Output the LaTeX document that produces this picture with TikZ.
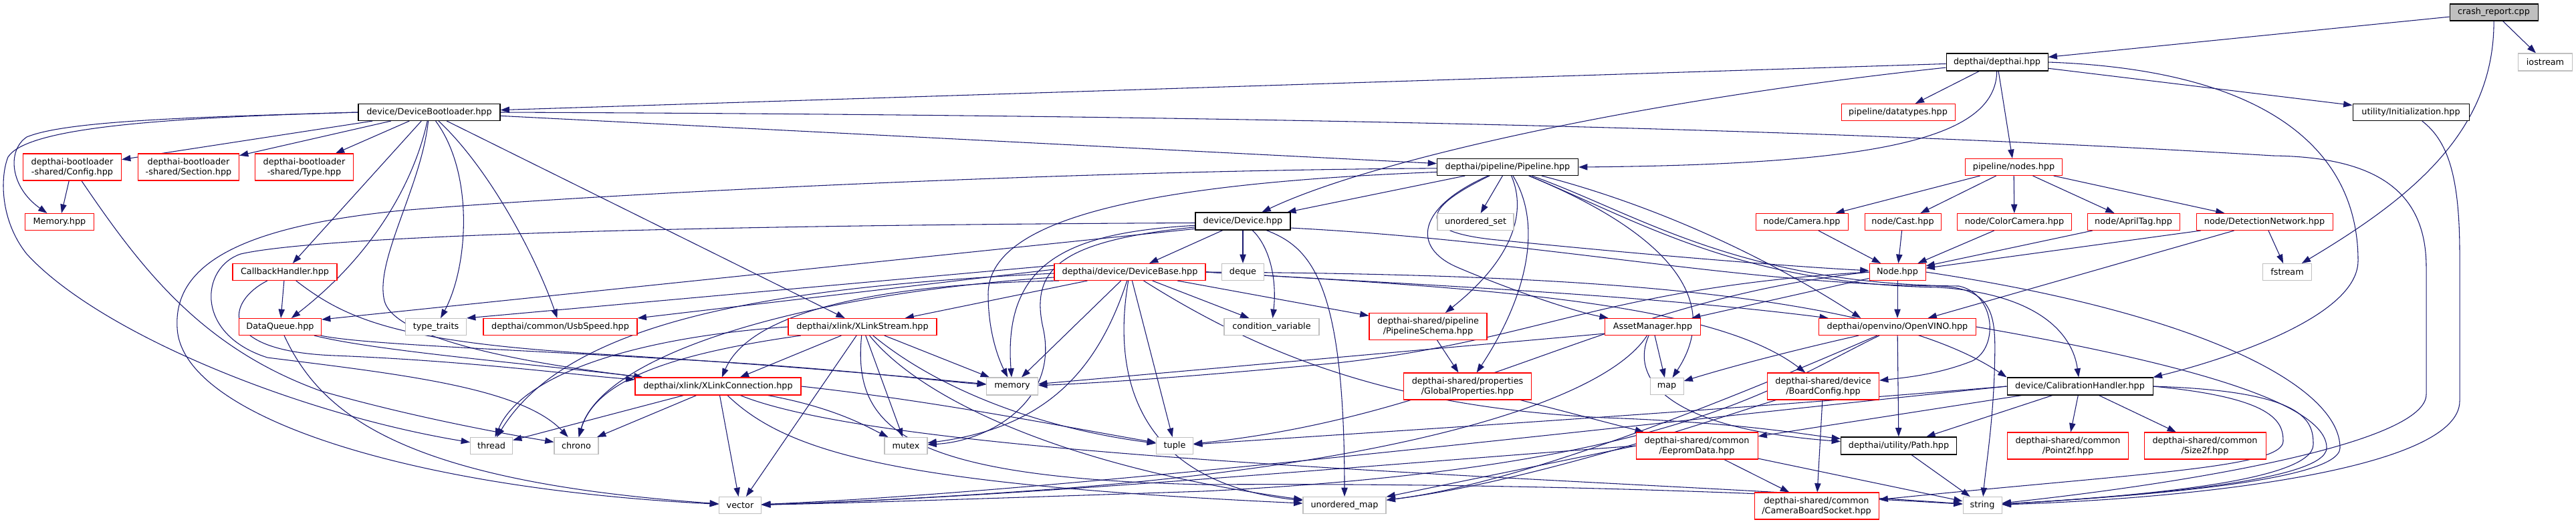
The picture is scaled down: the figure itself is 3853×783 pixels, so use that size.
\documentclass[tikz,border=0pt]{standalone}
\usepackage{fontspec}
\newfontfamily\dvs{DejaVu Sans}
\usetikzlibrary{arrows.meta,backgrounds}
\definecolor{edgec}{HTML}{191970}
\definecolor{gbord}{HTML}{BFBFBF}
\definecolor{rbord}{HTML}{FF0000}
\definecolor{crashfill}{HTML}{BFBFBF}
\begin{document}
\begin{tikzpicture}[x=0.75pt,y=-0.75pt,
  box/.style={inner sep=0pt, line width=0.8pt, fill=white, font={\dvs\fontsize{9.6}{11.25}\selectfont}, align=center},
  nb/.style={box, draw=black},
  nr/.style={box, draw=rbord},
  ng/.style={box, draw=gbord},
  sz/.style 2 args={minimum width=#1*0.75pt, minimum height=#2*0.75pt},
  e/.style={draw=edgec, line width=0.8pt, -{Triangle[length=10pt,width=7pt]}}]
\useasboundingbox (0,0) rectangle (3853,783);
% ---------------- nodes
\node[nb, fill=crashfill, sz={132}{25}] (crash) at (3730,18.5) {crash\_report.cpp};
\node[nb, sz={152}{26}] (depthai) at (2987,93) {depthai/depthai.hpp};
\node[ng, sz={81}{26}] (iostream) at (3807,93) {iostream};
\node[nb, sz={212}{25}] (dboot) at (642,168) {device/DeviceBootloader.hpp};
\node[nr, sz={170}{25}] (datatypes) at (2839,168) {pipeline/datatypes.hpp};
\node[nb, sz={174}{25}] (init) at (3606,168) {utility/Initialization.hpp};
\node[nr, sz={147}{40}] (cfg) at (108,250) {depthai-bootloader\\-shared/Config.hpp};
\node[nr, sz={151}{40}] (sect) at (282,250) {depthai-bootloader\\-shared/Section.hpp};
\node[nr, sz={147}{40}] (btype) at (455,250) {depthai-bootloader\\-shared/Type.hpp};
\node[nb, sz={211}{25}] (pipeline) at (2255,250) {depthai/pipeline/Pipeline.hpp};
\node[nr, sz={145}{25}] (nodes) at (3012,250) {pipeline/nodes.hpp};
\node[nr, sz={103}{25}] (memhpp) at (89,332) {Memory.hpp};
\node[nb, sz={142}{26}] (device) at (1859,331) {device/Device.hpp};
\node[ng, sz={114}{25}] (uset) at (2207,332) {unordered\_set};
\node[nr, sz={138}{25}] (camera) at (2695,332) {node/Camera.hpp};
\node[nr, sz={114}{25}] (cast) at (2846,332) {node/Cast.hpp};
\node[nr, sz={171}{25}] (colorcam) at (3013,332) {node/ColorCamera.hpp};
\node[nr, sz={138}{25}] (apriltag) at (3191,332) {node/AprilTag.hpp};
\node[nr, sz={204}{25}] (detnet) at (3387,332) {node/DetectionNetwork.hpp};
\node[nr, sz={156}{25}] (cbh) at (426,407) {CallbackHandler.hpp};
\node[nr, sz={226}{25}] (devbase) at (1690,407) {depthai/device/DeviceBase.hpp};
\node[ng, sz={63}{25}] (deque) at (1859,407) {deque};
\node[nr, sz={84}{25}] (node) at (2838,407) {Node.hpp};
\node[ng, sz={73}{25}] (fstream) at (3421,407) {fstream};
\node[nr, sz={123}{25}] (dq) at (419,489) {DataQueue.hpp};
\node[ng, sz={91}{25}] (ttraits) at (652,489) {type\_traits};
\node[nr, sz={230}{25}] (usb) at (838,489) {depthai/common/UsbSpeed.hpp};
\node[nr, sz={222}{25}] (xstream) at (1290,489) {depthai/xlink/XLinkStream.hpp};
\node[ng, sz={142}{25}] (condvar) at (1902,489) {condition\_variable};
\node[nr, sz={176}{40}] (schema) at (2136,488.5) {depthai-shared/pipeline\\/PipelineSchema.hpp};
\node[nr, sz={143}{25}] (asset) at (2472,489) {AssetManager.hpp};
\node[nr, sz={235}{25}] (openvino) at (2838,489) {depthai/openvino/OpenVINO.hpp};
\node[nr, sz={248}{26}] (xconn) at (1074,578) {depthai/xlink/XLinkConnection.hpp};
\node[ng, sz={77}{26}] (memory) at (1514,578) {memory};
\node[nr, sz={191}{40}] (gprops) at (2195,578) {depthai-shared/properties\\/GlobalProperties.hpp};
\node[ng, sz={50}{25}] (map) at (2493,578) {map};
\node[nr, sz={167}{40}] (board) at (2727,578) {depthai-shared/device\\/BoardConfig.hpp};
\node[nb, sz={218}{26}] (calib) at (3111,578) {device/CalibrationHandler.hpp};
\node[ng, sz={63}{25}] (thread) at (735,667) {thread};
\node[ng, sz={66}{25}] (chrono) at (862,667) {chrono};
\node[ng, sz={64}{25}] (mutex) at (1355,667) {mutex};
\node[ng, sz={55}{25}] (tuple) at (1757,667) {tuple};
\node[nr, sz={182}{40}] (eeprom) at (2538,667) {depthai-shared/common\\/EepromData.hpp};
\node[nb, sz={173}{26}] (path) at (2840,667) {depthai/utility/Path.hpp};
\node[nr, sz={181}{40}] (point2f) at (3093,667) {depthai-shared/common\\/Point2f.hpp};
\node[nr, sz={182}{40}] (size2f) at (3298,667) {depthai-shared/common\\/Size2f.hpp};
\node[ng, sz={63}{25}] (vector) at (1107,756) {vector};
\node[ng, sz={124}{25}] (umap) at (2011,756) {unordered\_map};
\node[nr, sz={186}{40}] (camsock) at (2717,757) {depthai-shared/common\\/CameraBoardSocket.hpp};
\node[ng, sz={58}{25}] (string) at (2965,756) {string};
% ---------------- edges
\begin{pgfonlayer}{background}
\begin{scope}[e]
\draw (crash) -- (depthai);
\draw (crash) -- (iostream);
\draw (crash) .. controls (3731,200) and (3600,300) .. (fstream);
\draw (depthai) -- (dboot);
\draw (depthai) .. controls (2450,150) and (2050,240) .. (device);
\draw (depthai) -- (datatypes);
\draw (depthai) .. controls (2985,205) and (2820,246) .. (pipeline.east);
\draw (depthai) -- (nodes);
\draw (depthai) -- (init);
\draw (depthai.east) .. controls (3400,105) and (3527,230) .. (3527,390) .. controls (3527,480) and (3300,545) .. (calib.north east);
\draw (dboot) -- (cfg);
\draw (dboot) -- (sect);
\draw (dboot) -- (btype);
\draw (dboot.west) .. controls (300,175) and (100,180) .. (40,205) .. controls (10,225) and (15,280) .. (memhpp);
\draw (dboot.west) .. controls (250,176) and (40,190) .. (12,235) .. controls (0,265) and (0,330) .. (40,380) .. controls (150,500) and (450,620) .. (thread);
\draw (dboot) -- (cbh);
\draw (dboot) .. controls (620,270) and (560,380) .. (dq);
\draw (dboot) .. controls (630,280) and (560,390) .. (575,450) .. controls (590,510) and (800,545) .. (xconn);
\draw (dboot) .. controls (710,260) and (700,400) .. (ttraits);
\draw (dboot) .. controls (730,250) and (800,380) .. (usb);
\draw (dboot) -- (xstream);
\draw (dboot) -- (pipeline);
\draw (dboot.east) .. controls (1800,172) and (2700,190) .. (3400,233) .. controls (3560,235) and (3629,290) .. (3629,400) -- (3629,590) .. controls (3629,660) and (3300,720) .. (string);
\draw (cfg) -- (memhpp);
\draw (cfg) .. controls (210,400) and (300,520) .. (480,585) .. controls (620,625) and (760,650) .. (chrono);
\draw (pipeline) -- (device);
\draw (pipeline) -- (uset);
\draw (pipeline) .. controls (2285,320) and (2260,390) .. (schema);
\draw (pipeline) .. controls (2310,340) and (2280,450) .. (gprops);
\draw (pipeline) .. controls (2450,330) and (2590,430) .. (map);
\draw (pipeline) .. controls (2120,310) and (2110,370) .. (2180,400) .. controls (2250,430) and (2350,465) .. (asset);
\draw (pipeline) .. controls (2110,320) and (2130,350) .. (2250,360) .. controls (2500,385) and (2700,400) .. (node);
\draw (pipeline.181) .. controls (1600,255) and (900,290) .. (600,315) .. controls (350,340) and (260,400) .. (265,490) .. controls (270,620) and (600,730) .. (vector);
\draw (pipeline.184) .. controls (1700,275) and (1478,330) .. (1478,440) .. controls (1478,500) and (1495,540) .. (memory);
\draw (pipeline) .. controls (2450,300) and (2620,370) .. ([xshift=-41pt]openvino.north);
\draw (pipeline) .. controls (2450,330) and (2600,425) .. (2900,430) .. controls (3050,440) and (3100,500) .. (calib);
\draw (pipeline) .. controls (2450,320) and (2600,425) .. (2930,428) .. controls (2985,440) and (2990,520) .. (2950,540) .. controls (2900,560) and (2850,565) .. (board);
\draw (device) -- (devbase);
\draw (device) -- (deque);
\draw (device) .. controls (1900,370) and (1910,420) .. (condvar);
\draw (device.185) .. controls (1600,348) and (1500,390) .. (memory);
\draw (device.187) .. controls (1590,360) and (1540,400) .. (1560,490) .. controls (1585,600) and (1480,660) .. (mutex);
\draw (device.189) -- (dq.10);
\draw (device.182) .. controls (1200,336) and (500,348) .. (360,380) .. controls (300,400) and (290,500) .. (400,535) .. controls (600,560) and (780,580) .. (chrono);
\draw (device) .. controls (1960,370) and (2011,420) .. (umap);
\draw (device.-8) .. controls (2300,360) and (2600,425) .. (2900,428) .. controls (2990,432) and (2985,480) .. (2983,560) .. controls (2980,640) and (2970,700) .. (string);
\draw (devbase) -- (xstream);
\draw (devbase) -- (memory);
\draw (devbase) .. controls (1640,560) and (1560,640) .. (mutex);
\draw (devbase) -- (tuple);
\draw (devbase) -- (condvar);
\draw (devbase) -- (schema);
\draw (devbase) .. controls (1665,550) and (1690,720) .. (umap);
\draw (devbase) .. controls (1900,540) and (2100,610) .. (2400,625) .. controls (2600,632) and (2700,650) .. (path);
\draw (devbase.east) .. controls (2100,425) and (2450,440) .. (openvino);
\draw (devbase.east) .. controls (2200,430) and (2560,450) .. (board);
\draw (devbase.east) .. controls (2300,410) and (2800,430) .. (calib.north west);
\draw (devbase.175) -- (ttraits.north east);
\draw (devbase.178) -- (usb.north east);
\draw (devbase.181) .. controls (1150,430) and (850,480) .. (thread);
\draw (devbase.184) .. controls (1200,440) and (900,530) .. (chrono);
\draw (devbase.187) .. controls (1300,425) and (1120,470) .. (xconn);
\draw (cbh) -- (dq);
\draw (cbh) .. controls (340,450) and (320,525) .. (500,532) .. controls (700,540) and (850,560) .. (xconn);
\draw (cbh) .. controls (520,480) and (600,512) .. (900,530) .. controls (1200,548) and (1400,568) .. (memory);
\draw (dq) .. controls (480,620) and (600,720) .. (vector);
\draw (dq) .. controls (540,515) and (750,522) .. (1000,537) .. controls (1250,550) and (1400,570) .. (memory);
\draw (dq) .. controls (560,525) and (800,545) .. (xconn);
\draw (xstream.west) .. controls (950,505) and (780,560) .. (thread);
\draw (xstream) .. controls (1000,530) and (890,570) .. (chrono);
\draw (xstream) -- (xconn);
\draw (xstream) -- (vector);
\draw (xstream) -- (mutex);
\draw (xstream) .. controls (1400,580) and (1550,640) .. (tuple);
\draw (xstream) -- (memory);
\draw (xstream) .. controls (1380,600) and (1600,700) .. (umap);
\draw (xstream) .. controls (1275,640) and (1350,715) .. (1800,725) .. controls (2300,722) and (2700,740) .. (string);
\draw (xconn) -- (thread);
\draw (xconn) -- (chrono);
\draw (xconn) -- (vector);
\draw (xconn) .. controls (1250,610) and (1300,640) .. (mutex);
\draw (xconn.east) .. controls (1400,600) and (1600,640) .. (tuple);
\draw (xconn) .. controls (1180,680) and (1350,725) .. (umap);
\draw (xconn) .. controls (1350,690) and (2400,715) .. (string);
\draw (node) -- (openvino);
\draw (node) -- (asset);
\draw (node.west) .. controls (2400,430) and (2300,510) .. (2000,543) .. controls (1800,562) and (1650,573) .. (memory);
\draw (node.west) .. controls (2400,450) and (2200,620) .. (tuple);
\draw (node.east) .. controls (3300,470) and (3500,580) .. (3500,670) .. controls (3500,720) and (3200,742) .. (string);
\draw (openvino) -- (path);
\draw (openvino.east) .. controls (3250,540) and (3480,600) .. (3480,670) .. controls (3480,720) and (3200,742) .. (string);
\draw (openvino) .. controls (2700,520) and (2600,545) .. (map);
\draw (openvino) .. controls (2650,570) and (2300,720) .. (umap);
\draw (openvino) .. controls (2650,580) and (2500,700) .. (1800,735) .. controls (1500,745) and (1300,752) .. (vector);
\draw (asset) -- (map);
\draw (asset.188) -- (memory);
\draw (asset) .. controls (2400,600) and (2100,690) .. (1600,730) .. controls (1400,745) and (1250,752) .. (vector);
\draw (asset) .. controls (2440,560) and (2480,640) .. (path);
\draw (schema) -- (gprops);
\draw (gprops) -- (eeprom);
\draw (eeprom) -- (camsock);
\draw (eeprom) -- (string);
\draw (eeprom.west) -- (umap);
\draw (eeprom.west) .. controls (2000,700) and (1500,745) .. (vector);
\draw (board) -- (camsock);
\draw (board) .. controls (2600,615) and (2300,720) .. (umap);
\draw (path) -- (string);
\draw (calib) -- (path);
\draw (calib) -- (eeprom);
\draw (calib) -- (point2f);
\draw (calib) -- (size2f);
\draw (calib.east) .. controls (3450,585) and (3460,630) .. (3460,665) .. controls (3460,720) and (3200,742) .. (string);
\draw (calib.east) .. controls (3400,595) and (3415,630) .. (3415,660) .. controls (3415,700) and (3200,708) .. (camsock);
\draw (calib.west) .. controls (2500,620) and (2000,650) .. (tuple);
\draw (calib.west) .. controls (2400,640) and (1600,735) .. (vector);
\draw (init) .. controls (3660,210) and (3679,260) .. (3679,380) -- (3679,600) .. controls (3679,700) and (3300,745) .. (string);
\draw (detnet) -- (node);
\draw (detnet) -- (openvino);
\draw (detnet) -- (fstream);
\draw (nodes) -- (camera);
\draw (nodes) -- (cast);
\draw (nodes) -- (colorcam);
\draw (nodes) -- (apriltag);
\draw (nodes) -- (detnet);
\draw (camera) -- (node);
\draw (cast) -- (node);
\draw (colorcam) -- (node);
\draw (apriltag) -- (node);
\end{scope}
\end{pgfonlayer}
\end{tikzpicture}
\end{document}
